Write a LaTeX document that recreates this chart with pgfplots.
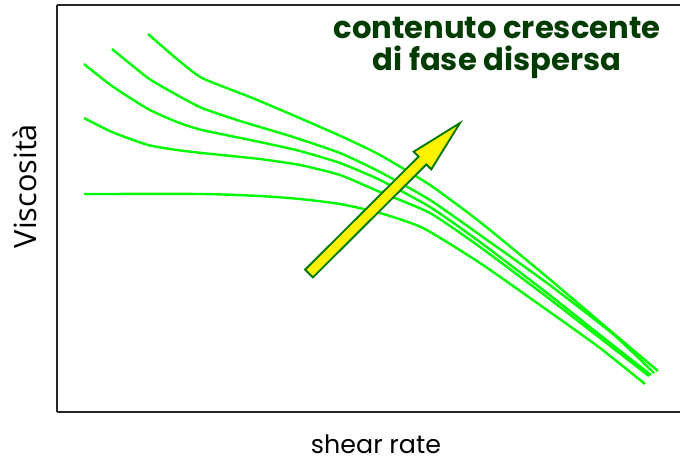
\documentclass[border=0pt]{standalone}
\usepackage{pgfplots}
\pgfplotsset{compat=1.18}
\usepackage{fontspec}
\setmainfont{Open Sans}
\newfontfamily\labfont{Open Sans}
\newfontfamily\comicfont{Poppins}
\definecolor{curvegreen}{RGB}{0,250,0}
\definecolor{darktitle}{RGB}{0,60,0}
\definecolor{arrowedge}{RGB}{0,120,0}
\begin{document}
\begin{tikzpicture}
\useasboundingbox (-42.75pt,-37.5pt) rectangle (467.25pt,309pt);
\begin{axis}[
  scale only axis,
  width=467.25pt, height=305.25pt,
  xmin=57, xmax=680, ymin=-412, ymax=-5,
  axis x line*=box, axis y line*=left,
  axis line style={line width=1.3pt, color=black!85},
  ticks=none,
  clip=false,
  xlabel={\comicfont\fontsize{19}{20}\selectfont shear rate},
  ylabel={\labfont\fontsize{23}{24}\selectfont Viscosità},
  xlabel style={at={(axis description cs:0.512,-0.079)}, anchor=center},
  ylabel style={at={(axis description cs:-0.052,0.555)}, anchor=center, rotate=0},
]
% curves
\addplot[curvegreen, line width=1.8pt, smooth, tension=0.35] coordinates {
 (148,-34) (177,-59) (202,-78) (250,-97) (295,-116) (345,-138) (380,-155) (430,-185) (480,-222) (547,-277) (613,-333) (658,-371)};
\addplot[curvegreen, line width=1.8pt, smooth, tension=0.35] coordinates {
 (112,-49) (148,-78) (177,-95) (202,-108) (240,-121) (290,-136) (340,-153) (380,-172) (430,-200) (480,-235) (547,-283) (613,-334) (654,-373)};
\addplot[curvegreen, line width=1.8pt, smooth, tension=0.35] coordinates {
 (84,-64) (112,-86) (148,-109) (177,-122) (202,-130) (260,-142) (300,-151) (340,-163) (380,-180) (430,-207) (480,-242) (547,-293) (600,-335) (651,-375)};
\addplot[curvegreen, line width=1.8pt, smooth, tension=0.35] coordinates {
 (84,-118) (112,-132) (148,-145) (177,-150) (202,-153) (260,-159) (300,-165) (340,-175) (380,-192) (430,-213) (480,-247) (547,-297) (600,-338) (649,-376)};
\addplot[curvegreen, line width=1.8pt, smooth, tension=0.35] coordinates {
 (84,-194) (203,-194) (260,-196) (300,-199) (340,-204) (380,-213) (423,-228) (480,-263) (547,-310) (600,-348) (645,-384)};
% arrow
\addplot[fill=yellow, draw=arrowedge, line width=1.4pt, line join=miter] coordinates {
 (305.1,-269.6) (418.6,-156.6) (413.7,-151.7) (460,-123) (431.3,-169.3) (426.4,-164.4) (312.9,-277.4)} -- cycle;
\node[align=center, text=darktitle, font=\comicfont\bfseries\fontsize{23}{24}\selectfont] at (axis cs:497,-48) {contenuto crescente\\di fase dispersa};
\end{axis}
\end{tikzpicture}
\end{document}
